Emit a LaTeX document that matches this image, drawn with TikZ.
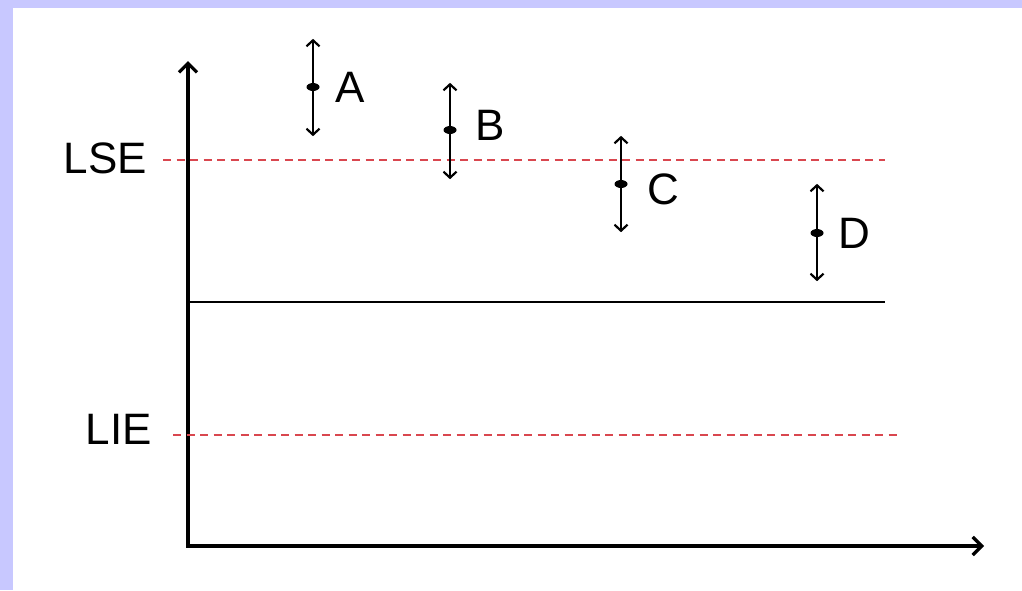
\documentclass[tikz,border=0pt]{standalone}
\usepackage{fontspec}
\setmainfont{Liberation Sans}
\usetikzlibrary{arrows.meta,positioning,shapes}
\definecolor{framelav}{HTML}{C8C8FF}
\definecolor{limitred}{HTML}{D9474F}

\begin{document}
\begin{tikzpicture}[
  x=1pt, y=-1pt,
  every node/.style={inner sep=0pt, font=\fontsize{44}{52}\selectfont},
  axis/.style={{Straight Barb[length=9pt,width=18pt]}-{Straight Barb[length=9pt,width=18pt]}, line width=3.3pt},
  limit/.style={limitred, dash pattern=on 8pt off 5.5pt, line width=2.6pt},
  meanline/.style={line width=2.3pt},
  errbar/.style={{Straight Barb[length=6pt,width=13pt]}-{Straight Barb[length=6pt,width=13pt]}, line width=2.2pt},
  dot/.style={draw=none, fill=black, ellipse, minimum width=13pt, minimum height=8pt},
]
  % frame
  \fill[framelav] (0,0) rectangle (1022,590);
  \fill[white] (13,8) rectangle (1022,590);

  % axes
  \coordinate (o) at (188,546);
  \coordinate (ytip) at (188,61);
  \coordinate (xtip) at (984,546);
  \draw[axis, line join=miter] (ytip) -- (o) -- (xtip);

  % limits and centre line
  \coordinate (lse-l) at (163,160);
  \coordinate (lse-r) at (885,160);
  \coordinate (lie-l) at (173,435);
  \coordinate (lie-r) at (900,435);
  \coordinate (mid-l) at (188,302);
  \coordinate (mid-r) at (885,302);
  \draw[limit] (lse-l) -- (lse-r);
  \draw[limit] (lie-l) -- (lie-r);
  \draw[meanline] (mid-l) -- (mid-r);
  \node[left=16pt of lse-l, yshift=2pt] (lse) {LSE};
  \node[left=21pt of lie-l, yshift=6pt] (lie) {LIE};

  % points A-D
  \node[dot] (ma) at (313,87) {};
  \node[dot] (mb) at (450,130) {};
  \node[dot] (mc) at (621,184) {};
  \node[dot] (md) at (817,233) {};
  \coordinate[above=44pt of ma] (ta);
  \coordinate[below=45pt of ma] (ba);
  \coordinate[above=43pt of mb] (tb);
  \coordinate[below=45pt of mb] (bb);
  \coordinate[above=44pt of mc] (tc);
  \coordinate[below=44pt of mc] (bc);
  \coordinate[above=45pt of md] (td);
  \coordinate[below=44pt of md] (bd);
  \draw[errbar] (ta) -- (ba);
  \draw[errbar] (tb) -- (bb);
  \draw[errbar] (tc) -- (bc);
  \draw[errbar] (td) -- (bd);
  \node[right=16pt of ma] (la) {A};
  \node[right=19pt of mb, yshift=5pt] (lb) {B};
  \node[right=20pt of mc, yshift=-5pt] (lc) {C};
  \node[right=15pt of md] (ld) {D};
\end{tikzpicture}
\end{document}
